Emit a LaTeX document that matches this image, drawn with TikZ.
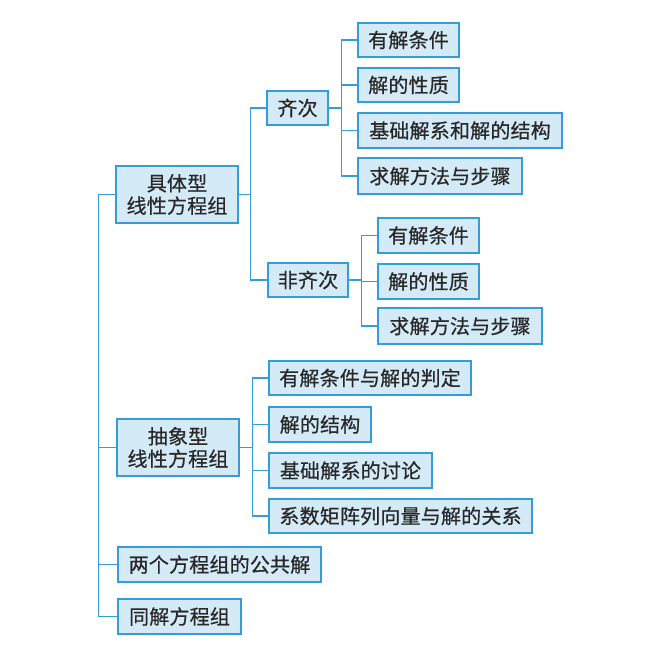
\documentclass[tikz,border=0pt]{standalone}
\usepackage{fontspec}
\setmainfont{Noto Sans CJK SC}[LetterSpace=1, FakeBold=0.6]
\definecolor{lineblue}{RGB}{52,156,214}
\definecolor{boxfill}{RGB}{212,234,246}
\definecolor{txt}{RGB}{40,40,40}
\begin{document}
\begin{tikzpicture}[x=1pt,y=-1pt,
  box/.style={draw=lineblue, fill=boxfill, line width=1.4pt, inner sep=0pt,
    text=txt, font=\fontsize{20}{22.5}\selectfont, align=center},
  link/.style={draw=lineblue, line width=1.3pt}]
\useasboundingbox[fill=white] (0,0) rectangle (644,652);
% level 1
\node[box, minimum width=122, minimum height=57] (jt) at (177,194.5) {具体型\\线性方程组};
\node[box, minimum width=122, minimum height=57] (cx) at (178,447.5) {抽象型\\线性方程组};
\node[box, minimum width=203, minimum height=35] (gg) at (219.5,564.5) {两个方程组的公共解};
\node[box, minimum width=123, minimum height=35] (tj) at (179.5,616.5) {同解方程组};
% level 2
\node[box, minimum width=61, minimum height=34] (qc) at (297.5,108) {齐次};
\node[box, minimum width=80, minimum height=34] (fq) at (308,280) {非齐次};
% 齐次 children
\node[box, minimum width=101, minimum height=34] (q1) at (408.5,40) {有解条件};
\node[box, minimum width=101, minimum height=34] (q2) at (408.5,85) {解的性质};
\node[box, minimum width=204, minimum height=35] (q3) at (460,130.5) {基础解系和解的结构};
\node[box, minimum width=164, minimum height=36] (q4) at (440,176) {求解方法与步骤};
% 非齐次 children
\node[box, minimum width=101, minimum height=35] (f1) at (428.5,235.5) {有解条件};
\node[box, minimum width=101, minimum height=35] (f2) at (428.5,281.5) {解的性质};
\node[box, minimum width=164, minimum height=36] (f3) at (460,326) {求解方法与步骤};
% 抽象型 children
\node[box, minimum width=202, minimum height=34] (c1) at (370,378) {有解条件与解的判定};
\node[box, minimum width=102, minimum height=35] (c2) at (320,424.5) {解的结构};
\node[box, minimum width=163, minimum height=35] (c3) at (350.5,470.5) {基础解系的讨论};
\node[box, minimum width=263, minimum height=34] (c4) at (400.5,516) {系数矩阵列向量与解的关系};
% connectors
\foreach \t in {cx,gg,tj} \draw[link] (jt.west) -- ++(-17,0) |- (\t.west);
\foreach \t in {qc,fq} \draw[link] (jt.east) -- ++(12,0) |- (\t.west);
\foreach \t in {q1,q2,q3,q4} \draw[link] (qc.east) -- ++(13,0) |- (\t.west);
\foreach \t in {f1,f2,f3} \draw[link] (fq.east) -- ++(13,0) |- (\t.west);
\foreach \t in {c1,c2,c3,c4} \draw[link] (cx.east) -- ++(13,0) |- (\t.west);
\end{tikzpicture}
\end{document}
